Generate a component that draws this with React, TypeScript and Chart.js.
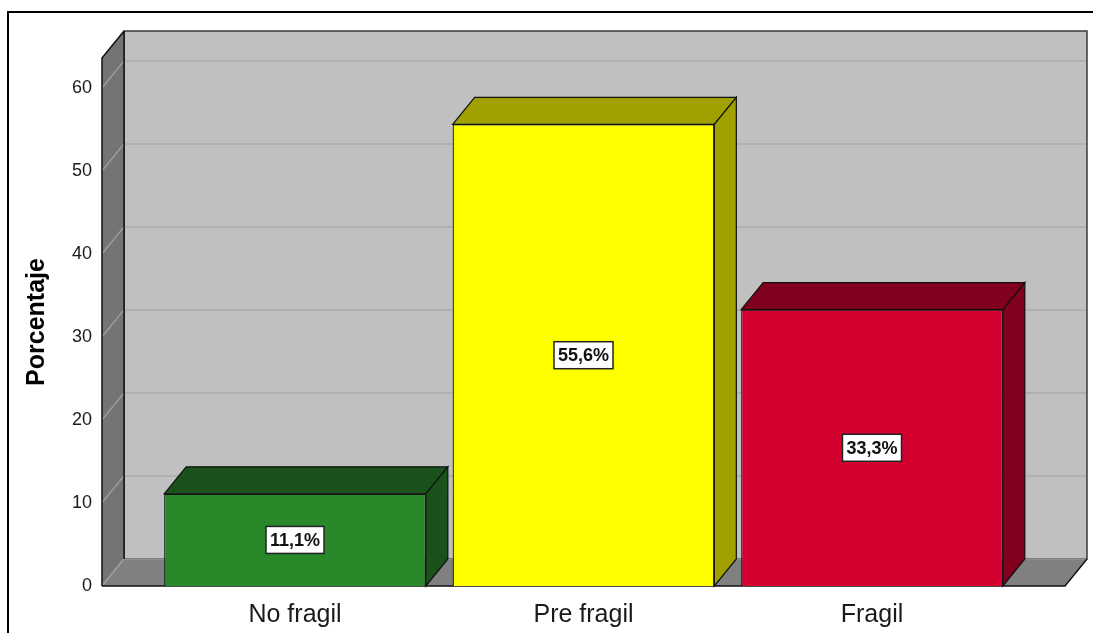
import React, { useEffect, useRef } from 'react';
import { Chart, registerables } from 'chart.js';

Chart.register(...registerables);

const categories = ['No fragil', 'Pre fragil', 'Fragil'];
const percentages = [11.1, 55.6, 33.3];
const yTicks = [0, 10, 20, 30, 40, 50, 60];
const frontColors = ['#28882a', '#ffff00', '#d4002f'];
const shadeColors = ['#1b511b', '#a0a000', '#80001e'];
const yAxisTitle = 'Porcentaje';
const Y_MAX = 63.6;
const X_MIN = -0.669;
const X_MAX = 2.669;

const DX = 22;
const DY = -27;

const poly = (ctx: CanvasRenderingContext2D, pts: number[][]) => {
  ctx.beginPath();
  ctx.moveTo(pts[0][0], pts[0][1]);
  for (let i = 1; i < pts.length; i++) ctx.lineTo(pts[i][0], pts[i][1]);
  ctx.closePath();
};

const fmt = (v: number) => v.toFixed(1).replace('.', ',') + '%';

const box3d = {
  id: 'box3d',
  beforeDraw(chart: any) {
    const ctx = chart.ctx as CanvasRenderingContext2D;
    ctx.save();
    ctx.fillStyle = '#ffffff';
    ctx.fillRect(0, 0, chart.width, chart.height);
    ctx.strokeStyle = '#000';
    ctx.lineWidth = 2;
    ctx.beginPath();
    ctx.moveTo(8, chart.height + 5);
    ctx.lineTo(8, 12);
    ctx.lineTo(chart.width + 5, 12);
    ctx.stroke();
    ctx.restore();
  },
  beforeDatasetsDraw(chart: any) {
    const ctx = chart.ctx as CanvasRenderingContext2D;
    const y = chart.scales.y;
    const { left, right, top } = chart.chartArea;
    const bottom = y.getPixelForValue(0);
    ctx.save();
    // back wall
    ctx.fillStyle = '#c0c0c0';
    ctx.fillRect(left + DX, top + DY, right - left, bottom - top);
    // grid on back wall
    ctx.strokeStyle = '#b0b0b0';
    ctx.lineWidth = 2;
    yTicks.forEach((v) => {
      if (v === 0) return;
      const py = y.getPixelForValue(v);
      ctx.beginPath();
      ctx.moveTo(left + DX, py + DY);
      ctx.lineTo(right + DX, py + DY);
      ctx.stroke();
    });
    ctx.strokeStyle = '#3a3a3a';
    ctx.lineWidth = 1.5;
    ctx.strokeRect(left + DX, top + DY, right - left, bottom - top);
    // left wall
    poly(ctx, [
      [left, top],
      [left + DX, top + DY],
      [left + DX, bottom + DY],
      [left, bottom],
    ]);
    ctx.fillStyle = '#747474';
    ctx.fill();
    ctx.strokeStyle = '#a4a4a4';
    ctx.lineWidth = 1.2;
    yTicks.forEach((v) => {
      const py = y.getPixelForValue(v);
      ctx.beginPath();
      ctx.moveTo(left, py);
      ctx.lineTo(left + DX, py + DY);
      ctx.stroke();
    });
    // floor
    poly(ctx, [
      [left, bottom],
      [left + DX, bottom + DY],
      [right + DX, bottom + DY],
      [right, bottom],
    ]);
    ctx.fillStyle = '#808080';
    ctx.fill();
    ctx.strokeStyle = '#a0a0a0';
    ctx.lineWidth = 1.2;
    ctx.beginPath();
    ctx.moveTo(left + DX, bottom + DY);
    ctx.lineTo(right + DX, bottom + DY);
    ctx.stroke();
    ctx.beginPath();
    ctx.moveTo(left, bottom);
    ctx.lineTo(left + DX, bottom + DY);
    ctx.stroke();
    // dark edges
    ctx.strokeStyle = '#111';
    ctx.lineWidth = 1.5;
    ctx.beginPath();
    ctx.moveTo(left, bottom);
    ctx.lineTo(left, top);
    ctx.lineTo(left + DX, top + DY);
    ctx.moveTo(left + DX, top + DY);
    ctx.lineTo(left + DX, bottom + DY);
    ctx.moveTo(left, bottom);
    ctx.lineTo(right, bottom);
    ctx.lineTo(right + DX, bottom + DY);
    ctx.stroke();
    ctx.restore();
  },
  afterDatasetsDraw(chart: any) {
    const ctx = chart.ctx as CanvasRenderingContext2D;
    const meta = chart.getDatasetMeta(0);
    ctx.save();
    meta.data.forEach((bar: any, i: number) => {
      const { x, y, base, width } = bar.getProps(['x', 'y', 'base', 'width'], true);
      const l = x - width / 2;
      const r = x + width / 2;
      ctx.fillStyle = shadeColors[i];
      ctx.strokeStyle = '#111';
      ctx.lineWidth = 1.2;
      poly(ctx, [
        [l, y],
        [l + DX, y + DY],
        [r + DX, y + DY],
        [r, y],
      ]);
      ctx.fill();
      ctx.stroke();
      poly(ctx, [
        [r, y],
        [r + DX, y + DY],
        [r + DX, base + DY],
        [r, base],
      ]);
      ctx.fill();
      ctx.stroke();
    });
    // value labels
    ctx.font = 'bold 18px "Liberation Sans", Arial, sans-serif';
    ctx.textAlign = 'center';
    ctx.textBaseline = 'middle';
    meta.data.forEach((bar: any, i: number) => {
      const { x, y, base } = bar.getProps(['x', 'y', 'base'], true);
      const cy = (y + base) / 2;
      const txt = fmt(percentages[i]);
      const w = ctx.measureText(txt).width + 8;
      const h = 27;
      ctx.fillStyle = '#fff';
      ctx.fillRect(x - w / 2, cy - h / 2, w, h);
      ctx.strokeStyle = '#222';
      ctx.lineWidth = 1.5;
      ctx.strokeRect(x - w / 2, cy - h / 2, w, h);
      ctx.fillStyle = '#111';
      ctx.fillText(txt, x, cy + 1);
    });
    ctx.restore();
  },
};

export default function App() {
  const ref = useRef<HTMLCanvasElement | null>(null);
  useEffect(() => {
    if (!ref.current) return;
    Chart.defaults.font.family = '"Liberation Sans", Arial, sans-serif';
    const chart = new Chart(ref.current, {
      type: 'bar',
      data: {
        datasets: [
          {
            data: percentages.map((v, i) => ({ x: i, y: v })),
            backgroundColor: frontColors,
            borderColor: '#111',
            borderWidth: 1.2,
            barPercentage: 0.907,
            categoryPercentage: 1,
          },
        ],
      },
      options: {
        animation: false,
        responsive: true,
        maintainAspectRatio: false,
        layout: { padding: { left: 0, top: 58, right: 28, bottom: 0 } },
        plugins: { legend: { display: false }, tooltip: { enabled: false } },
        scales: {
          x: {
            type: 'linear',
            offset: false,
            min: X_MIN,
            max: X_MAX,
            grid: { display: false, offset: false },
            border: { display: false },
            afterBuildTicks: (scale: any) => {
              scale.ticks = categories.map((_, i) => ({ value: i }));
            },
            afterFit: (scale: any) => {
              scale.height = 47;
            },
            ticks: {
              autoSkip: false,
              maxRotation: 0,
              padding: 6,
              color: '#1a1a1a',
              font: { size: 25 },
              callback: (v: any) => categories[v] ?? '',
            },
          },
          y: {
            min: 0,
            max: Y_MAX,
            grid: { display: false, drawTicks: false },
            border: { display: false },
            afterFit: (scale: any) => {
              scale.width = 102;
            },
            ticks: {
              stepSize: 10,
              includeBounds: false,
              padding: 10,
              color: '#1a1a1a',
              font: { size: 18 },
            },
            title: {
              display: true,
              text: yAxisTitle,
              color: '#000',
              font: { size: 25, weight: 'bold' },
              padding: { top: 22, bottom: 0 },
            },
          },
        },
      },
      plugins: [box3d],
    } as any);
    return () => chart.destroy();
  }, []);
  return (
    <div style={{ position: 'fixed', left: 0, top: 0, width: 1093, height: 633 }}>
      <canvas ref={ref} />
    </div>
  );
}
